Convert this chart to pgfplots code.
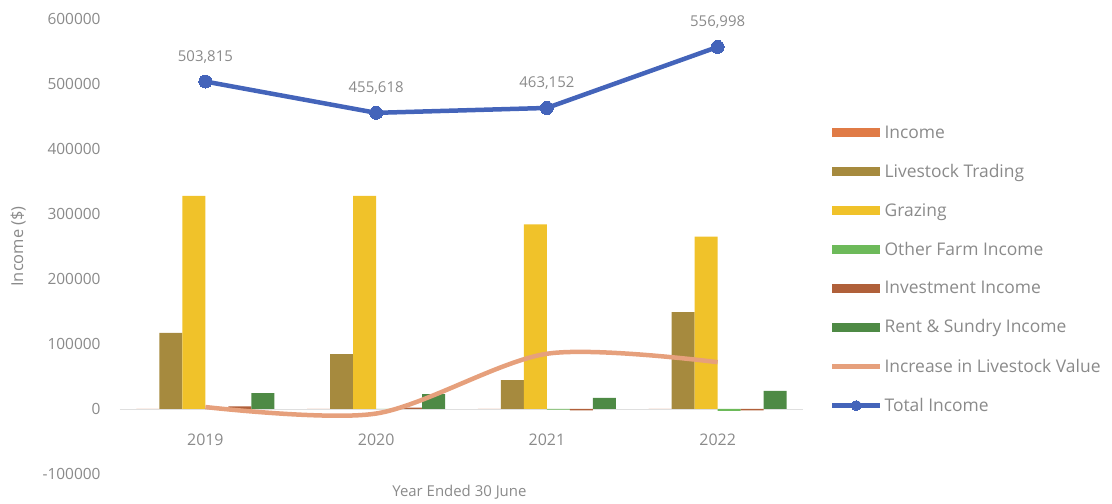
\documentclass[border=0pt]{standalone}
\usepackage{pgfplots}
\pgfplotsset{compat=1.18}
\usepackage{fontspec}
\setmainfont{Open Sans}
\definecolor{txt}{HTML}{8A8A8A}
\definecolor{cInc}{HTML}{E07B46}
\definecolor{cLive}{HTML}{A68A3E}
\definecolor{cGraz}{HTML}{F0C22A}
\definecolor{cOther}{HTML}{6DBA5A}
\definecolor{cInv}{HTML}{B0603A}
\definecolor{cRent}{HTML}{4E8A45}
\definecolor{cIncr}{HTML}{E6A07C}
\definecolor{cTot}{HTML}{4464BA}
\pgfplotsset{
  barlegend/.style={legend image code/.code={\fill[##1] (0bp,-4.5bp) rectangle (48bp,4.5bp);}},
  linelegend/.style={legend image code/.code={\draw[##1] (0bp,0bp) -- (48bp,0bp);}},
  totlegend/.style={legend image code/.code={\draw[##1, mark repeat=2, mark phase=2, mark size=5bp] plot coordinates {(0bp,0bp) (24bp,0bp) (48bp,0bp)};}},
}
\begin{document}
\begin{tikzpicture}
\begin{axis}[
  scale only axis, width=683bp, height=455bp,
  xmin=-0.5, xmax=3.5, ymin=-100000, ymax=600000,
  xtick={0,1,2,3}, xticklabels={2019,2020,2021,2022},
  ytick={-100000,0,100000,200000,300000,400000,500000,600000},
  yticklabels={-100000,0,100000,200000,300000,400000,500000,600000},
  axis x line=middle, axis y line=left,
  x axis line style={draw=gray!25, -, line width=1pt},
  y axis line style={draw=none},
  major tick length=0pt,
  tick label style={font=\fontsize{15.5}{18}\selectfont, text=txt},
  xticklabel style={yshift=-21bp, font=\fontsize{16}{18}\selectfont},
  yticklabel style={xshift=-16bp},
  scaled y ticks=false,
  xlabel={Year Ended 30 June}, ylabel={Income (\$)},
  every axis x label/.style={at={(axis description cs:0.497,0)}, anchor=center, yshift=-18bp, font=\fontsize{15}{18}\selectfont, text=txt},
  every axis y label/.style={at={(axis description cs:-0.149,0.5)}, anchor=center, rotate=90, font=\fontsize{16.5}{18}\selectfont, text=txt},
  clip=false,
  legend style={at={(axis description cs:1.035,0.775)}, anchor=north west, draw=none, fill=none,
    font=\fontsize{17.5}{20}\selectfont, text=txt, row sep=20.5bp,
    nodes={inner sep=2bp}},
  legend cell align=left,
]
\addplot[ybar, bar width=23bp, bar shift=-57.5bp, fill=cInc, draw=none, barlegend]
  coordinates {(0,0) (1,0) (2,0) (3,0)};
\addlegendentry{Income}
\addplot[ybar, bar width=23bp, bar shift=-34.5bp, fill=cLive, draw=none, barlegend]
  coordinates {(0,117000) (1,84600) (2,44600) (3,149000)};
\addlegendentry{Livestock Trading}
\addplot[ybar, bar width=23bp, bar shift=-11.5bp, fill=cGraz, draw=none, barlegend]
  coordinates {(0,328000) (1,328000) (2,284000) (3,265000)};
\addlegendentry{Grazing}
\addplot[ybar, bar width=23bp, bar shift=11.5bp, fill=cOther, draw=none, barlegend]
  coordinates {(0,0) (1,0) (2,-1000) (3,-3000)};
\addlegendentry{Other Farm Income}
\addplot[ybar, bar width=23bp, bar shift=34.5bp, fill=cInv, draw=none, barlegend]
  coordinates {(0,4000) (1,2000) (2,-2000) (3,-2000)};
\addlegendentry{Investment Income}
\addplot[ybar, bar width=23bp, bar shift=57.5bp, fill=cRent, draw=none, barlegend]
  coordinates {(0,24600) (1,23000) (2,17000) (3,27700)};
\addlegendentry{Rent \& Sundry Income}
\addplot[smooth, color=cIncr, line width=4.5bp, no markers, linelegend]
  coordinates {(0,3000) (1,-7000) (2,85000) (3,72000)};
\addlegendentry{Increase in Livestock Value}
\addplot[sharp plot, color=cTot, line width=4.5bp, mark=*, mark size=6.5bp,
  mark options={fill=cTot, draw=cTot, line width=0pt},
  nodes near coords, point meta=explicit symbolic,
  every node near coord/.append style={font=\fontsize{15}{18}\selectfont, text=txt, yshift=15bp},
  totlegend]
  coordinates {(0,503815) [503,815] (1,455618) [455,618] (2,463152) [463,152] (3,556998) [556,998]};
\addlegendentry{Total Income}
\end{axis}
\pgfresetboundingbox
\path[use as bounding box] (-120bp,-30bp) rectangle (992bp,474bp);
\end{tikzpicture}
\end{document}
